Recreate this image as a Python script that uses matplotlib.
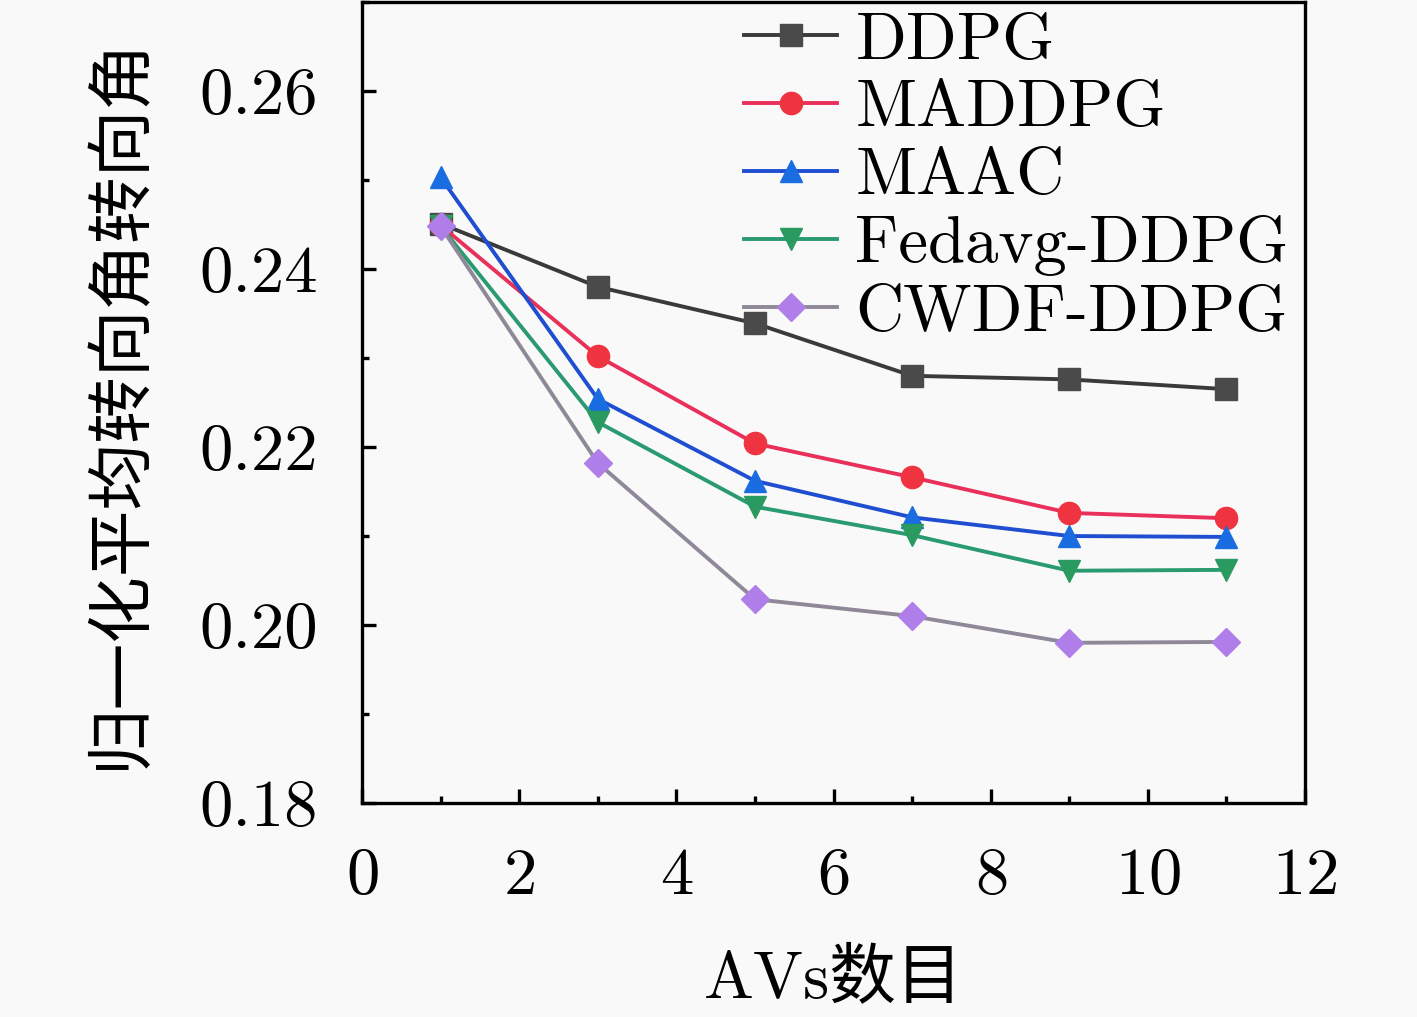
import numpy as np
import matplotlib
matplotlib.use("Agg")
import matplotlib.pyplot as plt
from matplotlib.ticker import MultipleLocator

plt.rcParams['font.family'] = ['cmr10', 'Noto Sans CJK SC', 'DejaVu Sans']
plt.rcParams['axes.formatter.use_mathtext'] = True

# ── Data ───────────────────────────────────────────────────────────────────
n_avs = [1, 3, 5, 7, 9, 11]
ddpg = [0.2451, 0.2380, 0.2339, 0.2280, 0.2276, 0.2265]
maddpg = [0.2449, 0.2302, 0.2204, 0.2166, 0.2126, 0.2120]
maac = [0.2503, 0.2254, 0.2162, 0.2121, 0.2100, 0.2099]
fedavg_ddpg = [0.2448, 0.2228, 0.2133, 0.2101, 0.2061, 0.2062]
cwdf_ddpg = [0.2448, 0.2182, 0.2029, 0.2010, 0.1980, 0.1981]

labels = ["DDPG", "MADDPG", "MAAC", "Fedavg-DDPG", "CWDF-DDPG"]
series = [ddpg, maddpg, maac, fedavg_ddpg, cwdf_ddpg]

# (line colour, marker face, marker)
styles = [
    ("#3a3a3a", "#4a4a4a", "s"),
    ("#e8305a", "#f03340", "o"),
    ("#1f4fd0", "#1a6de0", "^"),
    ("#2a9a70", "#2a9a60", "v"),
    ("#8f8898", "#b07ee8", "D"),
]

# ── Plot ───────────────────────────────────────────────────────────────────
bg = "#f9f9f9"
fig = plt.figure(figsize=(14.17, 10.17), dpi=100, facecolor=bg)
ax = fig.add_axes([0.2555, 0.2104, 0.6655, 0.7876], facecolor=bg)

for ys, lab, (lc, mc, mk) in zip(series, labels, styles):
    ms = 16 if mk != "D" else 14
    ax.plot(n_avs, ys, color=lc, linewidth=2.8, marker=mk, markersize=ms,
            markerfacecolor=mc, markeredgecolor=mc, label=lab)

ax.set_xlim(0, 12)
ax.set_ylim(0.18, 0.27)
ax.xaxis.set_major_locator(MultipleLocator(2))
ax.xaxis.set_minor_locator(MultipleLocator(1))
ax.yaxis.set_minor_locator(MultipleLocator(0.01))
ax.set_yticks([0.18, 0.20, 0.22, 0.24, 0.26])
ax.set_yticklabels(["0.18", "0.20", "0.22", "0.24", "0.26"])
ax.tick_params(which="both", direction="in", top=False, right=False,
               labelsize=48, width=2.4)
ax.tick_params(which="major", length=10, pad=32)
ax.tick_params(which="minor", length=5)
for sp in ax.spines.values():
    sp.set_linewidth(2.4)

ax.set_xlabel("AVs数目", fontsize=48, labelpad=30)
ax.set_ylabel("归一化平均转向角转向角", fontsize=48, labelpad=34)

ax.legend(loc="upper right", bbox_to_anchor=(1.011, 1.021), frameon=False,
          fontsize=48, handlelength=1.4, handletextpad=0.27,
          labelspacing=0.12, borderaxespad=0.0)

fig.savefig("out.png", dpi=100, facecolor=bg)
